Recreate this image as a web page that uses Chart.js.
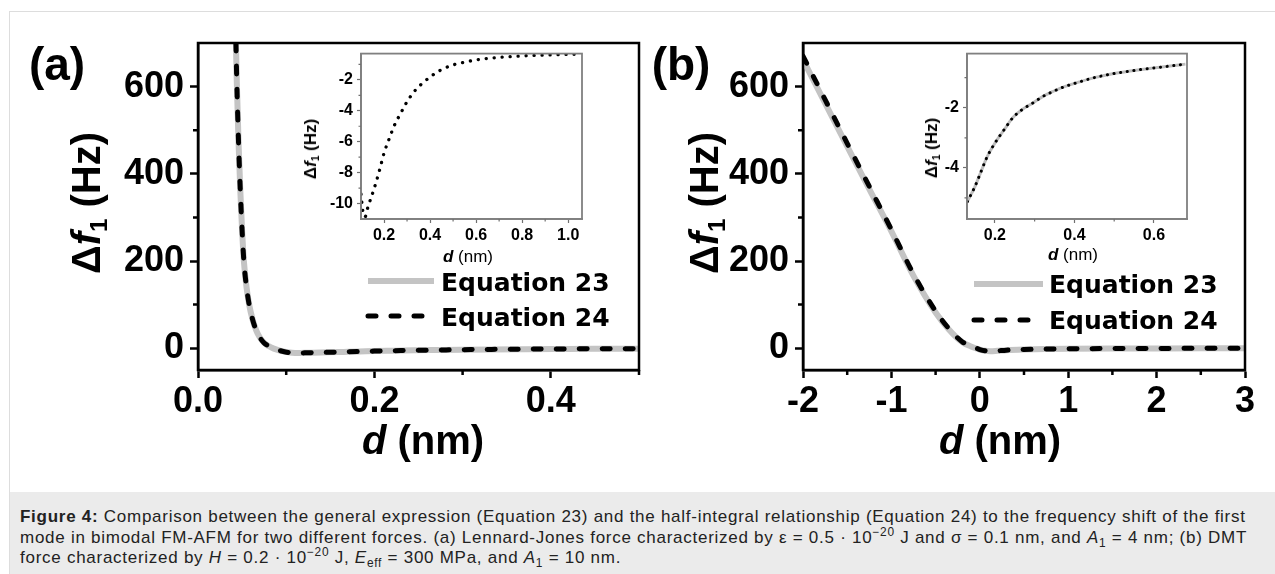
<!DOCTYPE html>
<html><head><meta charset="utf-8">
<script src="https://cdn.jsdelivr.net/npm/chart.js@4/dist/chart.umd.min.js"></script>
<style>
html,body{margin:0;padding:0;background:#fff;}
body{width:1275px;height:574px;position:relative;overflow:hidden;font-family:"Liberation Sans",Arial,sans-serif;}
#frame{position:absolute;left:9px;top:11px;width:1300px;height:600px;border-left:1px solid #ddd;border-top:1px solid #ddd;}
#cap{position:absolute;left:10px;top:492px;width:1265px;height:82px;background:#ebebeb;}
#captext{position:absolute;left:20px;top:507px;font-size:17px;line-height:20.5px;color:#222;white-space:nowrap;}
#captext span.ln{display:block;}
#captext sup,#captext sub{font-size:70%;line-height:0;}
canvas{position:absolute;}
.t{position:absolute;white-space:nowrap;font-weight:bold;color:#000;line-height:normal;}
.big{font-size:40px;}
.pan{font-size:46px;}
.leg{font-family:"DejaVu Sans",sans-serif;font-size:25px;transform:translate(0,-50%);}
.cc{transform:translate(-50%,-50%);}
.rot{transform:translate(-50%,-50%) rotate(-90deg);}
.sm{font-size:17px;}
.sub{font-size:60%;position:relative;top:0.3em;}
</style>
</head><body>
<div id="frame"></div>
<div id="cap"></div>
<canvas id="ca" width="645" height="490" style="left:0;top:0"></canvas>
<canvas id="cb" width="630" height="490" style="left:645px;top:0"></canvas>
<canvas id="cai" width="300" height="230" style="left:290px;top:40px"></canvas>
<canvas id="cbi" width="300" height="230" style="left:900px;top:40px"></canvas>

<div class="t pan cc" style="left:57px;top:64px">(a)</div>
<div class="t pan cc" style="left:681px;top:64px">(b)</div>
<div class="t big rot" style="left:86px;top:203px">Δ<i>f</i><span class="sub">1</span> (Hz)</div>
<div class="t big rot" style="left:704px;top:203px">Δ<i>f</i><span class="sub">1</span> (Hz)</div>
<div class="t big cc" style="left:423px;top:440px"><i>d</i> (nm)</div>
<div class="t big cc" style="left:1000px;top:440px"><i>d</i> (nm)</div>

<div class="t sm rot" style="left:311px;top:149px">Δ<i>f</i><span class="sub">1</span> (Hz)</div>
<div class="t sm cc" style="left:468px;top:257px"><i>d</i> <span style="font-weight:normal">(nm)</span></div>
<div class="t sm rot" style="left:932px;top:148px">Δ<i>f</i><span class="sub">1</span> (Hz)</div>
<div class="t sm cc" style="left:1073px;top:255px"><i>d</i> <span style="font-weight:normal">(nm)</span></div>

<div class="t leg" style="left:441px;top:282px">Equation 23</div>
<div class="t leg" style="left:441px;top:317px">Equation 24</div>
<div class="t leg" style="left:1049px;top:284px">Equation 23</div>
<div class="t leg" style="left:1049px;top:320px">Equation 24</div>

<div id="captext"><span class="ln" id="l1"><b>Figure 4:</b> Comparison between the general expression (Equation 23) and the half-integral relationship (Equation 24) to the frequency shift of the first</span><span class="ln">mode in bimodal FM-AFM for two different forces. (a) Lennard-Jones force characterized by ε = 0.5 · 10<sup>−20</sup> J and σ = 0.1 nm, and <i>A</i><sub>1</sub> = 4 nm; (b) DMT</span><span class="ln">force characterized by <i>H</i> = 0.2 · 10<sup>−20</sup> J, <i>E</i><sub>eff</sub> = 300 MPa, and <i>A</i><sub>1</sub> = 10 nm.</span></div>

<script>
// ---------- data ----------
// Panel (a): Lennard-Jones
const dA    = [0.043,0.044,0.046,0.048,0.050,0.052,0.055,0.058,0.062,0.066,0.070,0.075,0.080,0.086,0.092,0.098,0.104,0.110,0.116,0.123,0.130,0.147,0.165,0.183,0.200,0.223,0.245,0.271,0.298,0.333,0.369,0.404,0.448,0.500];
const eq23A = [700,610,470,360,270,200,140,100,65,41,25,12,5,-1,-5,-8,-10.1,-10.8,-10.9,-10.6,-10.2,-9.5,-8.6,-7.7,-6.7,-5.8,-4.9,-4.2,-3.5,-2.7,-2.2,-1.8,-1.35,-1.0];
const eq24A = [700,610,470,360,270,200,140,100,65,41,25,12,5,-1,-5,-8,-10.1,-10.8,-10.9,-10.6,-10.2,-9.5,-8.6,-7.7,-6.7,-5.8,-4.9,-4.2,-3.5,-2.7,-2.2,-1.8,-1.35,-1.0];
// Inset (a)
const dAin  = [0.100,0.109,0.118,0.130,0.147,0.165,0.183,0.200,0.223,0.245,0.271,0.298,0.333,0.369,0.404,0.448,0.501,0.550,0.598,0.650,0.704,0.765,0.828,0.900,0.970,1.040];
const fAin  = [-9.4,-10.6,-10.85,-10.23,-9.49,-8.65,-7.70,-6.74,-5.79,-4.94,-4.20,-3.46,-2.72,-2.19,-1.77,-1.35,-1.03,-0.86,-0.71,-0.62,-0.54,-0.48,-0.43,-0.39,-0.36,-0.34];
// Panel (b): DMT
const dB    = [-2.0,-1.75,-1.50,-1.25,-1.00,-0.75,-0.50,-0.35,-0.20,-0.10,0.00,0.06,0.12,0.20,0.30,0.50,0.75,1.00,1.50,2.00,2.50,3.00];
const eq23B = [662,562,463,365,268,166,82,43,14,4,-3,-6,-7,-6,-4.5,-3,-2,-1.4,-0.8,-0.5,-0.35,-0.25];
const eq24B = [670,570,470,371,272,170,85,45,15,5,-3,-6,-7,-6,-4.5,-3,-2,-1.4,-0.8,-0.5,-0.35,-0.25];
// Inset (b)
const dBin  = [0.131,0.150,0.163,0.180,0.200,0.225,0.246,0.270,0.296,0.320,0.346,0.375,0.413,0.450,0.496,0.540,0.579,0.630,0.679];
const fBin  = [-5.12,-4.62,-4.20,-3.65,-3.18,-2.70,-2.32,-2.05,-1.84,-1.63,-1.46,-1.30,-1.14,-1.00,-0.87,-0.78,-0.71,-0.63,-0.55];

// ---------- ticks ----------
const yTicksMain = [0,200,400,600], yMinorMain = [100,300,500];
const xTicksA = [0,0.2,0.4], xMinorA = [0.1,0.3,0.5];
const xTicksB = [-2,-1,0,1,2,3], xMinorB = [-1.5,-0.5,0.5,1.5,2.5];
const xTicksAin = [0.2,0.4,0.6,0.8,1.0], xMinorAin = [0.3,0.5,0.7,0.9];
const yTicksAin = [-10,-8,-6,-4,-2], yMinorAin = [-9,-7,-5,-3,-1];
const xTicksBin = [0.2,0.4,0.6], xMinorBin = [0.3,0.5];
const yTicksBin = [-4,-2], yMinorBin = [-5,-3,-1];

const legendLabels = ['Equation 23','Equation 24'];

const pts = (xs, ys) => xs.map((x,i) => ({x, y: ys[i]}));

const framePlugin = {
  id: 'frame',
  afterDraw(chart, args, o) {
    const {ctx, chartArea: a, scales} = chart;
    ctx.save();
    ctx.strokeStyle = o.color; ctx.lineWidth = o.width;
    ctx.strokeRect(a.left, a.top, a.right - a.left, a.bottom - a.top);
    ctx.strokeStyle = o.tickColor; ctx.lineWidth = o.tickWidth;
    ctx.beginPath();
    (o.minorX || []).forEach(v => { const p = scales.x.getPixelForValue(v); ctx.moveTo(p, a.bottom); ctx.lineTo(p, a.bottom + o.minorLen); });
    (o.minorY || []).forEach(v => { const p = scales.y.getPixelForValue(v); ctx.moveTo(a.left, p); ctx.lineTo(a.left - o.minorLen, p); });
    ctx.stroke();
    (o.legend || []).forEach(it => {
      const ds = chart.data.datasets[it.index];
      ctx.beginPath();
      ctx.strokeStyle = ds.borderColor; ctx.lineWidth = ds.borderWidth;
      ctx.lineCap = ds.borderCapStyle || 'butt';
      ctx.setLineDash(ds.borderDash || []);
      ctx.moveTo(it.x0, it.y); ctx.lineTo(it.x1, it.y); ctx.stroke();
    });
    ctx.restore();
  }
};

function axis(opts) {
  return {
    type: 'linear', min: opts.min, max: opts.max,
    afterBuildTicks: s => { s.ticks = opts.ticks.map(v => ({value: v})); },
    afterFit: s => { if (opts.w !== undefined) s.width = opts.w; if (opts.h !== undefined) s.height = opts.h; },
    grid: { drawOnChartArea: false, drawTicks: true, tickLength: opts.tl, tickWidth: opts.tw, tickColor: opts.tc },
    border: { display: true, width: opts.bw, color: opts.bc },
    ticks: { color: '#000', padding: opts.pad, font: { family: 'Liberation Sans', size: opts.fs, weight: 'bold' },
             callback: opts.fmt, maxRotation: 0, autoSkip: false }
  };
}

function mainChart(id, xs, y23, y24, xo, pad, legend) {
  return new Chart(document.getElementById(id), {
    type: 'scatter',
    data: { datasets: [
      { label: legendLabels[0], data: pts(xs, y23), showLine: true, pointRadius: 0, borderColor: '#c4c4c4', borderWidth: 6, order: 2, cubicInterpolationMode: 'monotone' },
      { label: legendLabels[1], data: pts(xs, y24), showLine: true, pointRadius: 0, borderColor: '#000', borderWidth: 5, borderDash: [8, 15], borderCapStyle: 'round', order: 1, cubicInterpolationMode: 'monotone' }
    ]},
    options: {
      responsive: false, animation: false, devicePixelRatio: 1,
      layout: { padding: pad },
      plugins: { legend: { display: false }, tooltip: { enabled: false },
        frame: { color: '#000', width: 2.5, tickColor: '#000', tickWidth: 2.5, minorLen: 5, minorX: xo.minor, minorY: yMinorMain, legend } },
      scales: {
        x: axis({ min: xo.min, max: xo.max, ticks: xo.ticks, h: 120, tl: 8, tw: 2.5, tc: '#000', bw: 2.5, bc: '#000', pad: 2, fs: 36, fmt: xo.fmt }),
        y: axis({ min: -50, max: 700, ticks: yTicksMain, w: xo.yw, tl: 8, tw: 2.5, tc: '#000', bw: 2.5, bc: '#000', pad: 6, fs: 36, fmt: v => String(v) })
      }
    },
    plugins: [framePlugin]
  });
}

function insetChart(id, xs, ys, o) {
  const ds = [];
  if (o.under) ds.push({ label: legendLabels[0], data: pts(xs, ys), showLine: true, pointRadius: 0, borderColor: '#bdbdbd', borderWidth: 3, order: 2, cubicInterpolationMode: 'monotone' });
  ds.push({ label: legendLabels[1], data: pts(xs, ys), showLine: true, pointRadius: 0, borderColor: '#000', borderWidth: o.lw, borderDash: [0.1, o.gap], borderCapStyle: 'round', order: 1, cubicInterpolationMode: 'monotone' });
  return new Chart(document.getElementById(id), {
    type: 'scatter',
    data: { datasets: ds },
    options: {
      responsive: false, animation: false, devicePixelRatio: 1,
      layout: { padding: o.pad },
      plugins: { legend: { display: false }, tooltip: { enabled: false },
        frame: { color: '#808080', width: 1.8, tickColor: '#707070', tickWidth: 1.2, minorLen: 2.5, minorX: o.xMinor, minorY: o.yMinor } },
      scales: {
        x: axis({ min: o.xmin, max: o.xmax, ticks: o.xTicks, h: 51, tl: 4, tw: 1.2, tc: '#707070', bw: 1.8, bc: '#808080', pad: 3, fs: 16, fmt: v => v.toFixed(1) }),
        y: axis({ min: o.ymin, max: o.ymax, ticks: o.yTicks, w: o.yw, tl: 4, tw: 1.2, tc: '#707070', bw: 1.8, bc: '#808080', pad: 4, fs: 16, fmt: v => String(v) })
      }
    },
    plugins: [framePlugin]
  });
}

mainChart('ca', dA, eq23A, eq24A,
  { min: 0, max: 0.5, ticks: xTicksA, minor: xMinorA, fmt: v => v.toFixed(1), yw: 198 },
  { top: 43, left: 0, right: 6, bottom: 0 },
  [ { index: 0, x0: 368, x1: 434, y: 281 }, { index: 1, x0: 368, x1: 428, y: 316 } ]);

mainChart('cb', dB, eq23B, eq24B,
  { min: -2, max: 3, ticks: xTicksB, minor: xMinorB, fmt: v => String(v), yw: 158 },
  { top: 43, left: 0, right: 30, bottom: 0 },
  [ { index: 0, x0: 329, x1: 398, y: 284 }, { index: 1, x0: 329, x1: 392, y: 320 } ]);

insetChart('cai', dAin, fAin, { under: false, gap: 7.9, lw: 3.3, pad: { top: 11, left: 0, right: 8, bottom: 0 }, yw: 71,
  xmin: 0.1, xmax: 1.06, ymin: -11, ymax: -0.3, xTicks: xTicksAin, xMinor: xMinorAin, yTicks: yTicksAin, yMinor: yMinorAin });

insetChart('cbi', dBin, fBin, { under: true, gap: 6.6, lw: 3, pad: { top: 9, left: 0, right: 13, bottom: 0 }, yw: 67,
  xmin: 0.13, xmax: 0.683, ymin: -5.7, ymax: -0.2, xTicks: xTicksBin, xMinor: xMinorBin, yTicks: yTicksBin, yMinor: yMinorBin });

// stretch caption spacing so the first line spans the same width as in the figure
(function () {
  const l1 = document.getElementById('l1');
  const w = l1.getBoundingClientRect().width;
  const n = l1.textContent.length;
  const ls = Math.max(0, (1230 - w) / n);
  document.getElementById('captext').style.letterSpacing = ls.toFixed(3) + 'px';
})();
</script>
</body></html>
